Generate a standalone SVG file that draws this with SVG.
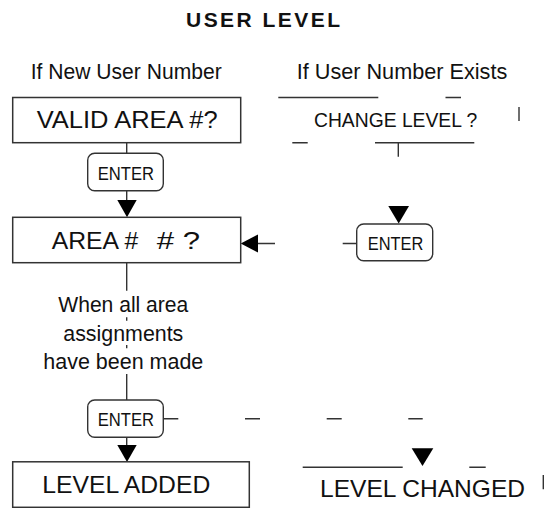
<svg xmlns="http://www.w3.org/2000/svg" width="553" height="508" viewBox="0 0 553 508">
<style>
text{font-family:"Liberation Sans",Arial,sans-serif;fill:#111}
.box{fill:#fff;stroke:#333;stroke-width:1.5}
.key{fill:#fff;stroke:#333;stroke-width:1.4}
.ln{stroke:#333;stroke-width:1.4;fill:none}
.arr{fill:#000;stroke:none}
.lbl{font-size:22px}
.bt{font-size:23.5px}
.key-t{font-size:17.5px}
</style>
<rect width="553" height="508" fill="#fff"/>
<g id="title"><text x="186" y="26.5" font-size="21" font-weight="bold" textLength="154" lengthAdjust="spacing">USER LEVEL</text></g>
<g id="label-new"><text class="lbl" x="30.7" y="79.3" textLength="191" lengthAdjust="spacingAndGlyphs">If New User Number</text></g>
<g id="label-exists"><text class="lbl" x="296.7" y="79.3" textLength="210.6" lengthAdjust="spacingAndGlyphs">If User Number Exists</text></g>
<g id="connectors">
<path class="ln" d="M126.7 142.7V153.3M126.7 190.7V201M126.7 262.7V290.7M126.7 317.3V320.7M126.7 345V348.3M126.7 374V400M126.7 437.3V446"/>
<polygon class="arr" points="117.3,200 136.7,200 127,217.3"/>
<polygon class="arr" points="117.3,445 136.7,445 127,462"/>
<path class="ln" d="M398.3 142.7V156.7M258 243.5H275M342.7 243.5H356.7"/>
<polygon class="arr" points="388.3,206 409,206 398.7,223.5"/>
<polygon class="arr" points="240.7,243.5 258,234.5 258,252.5"/>
<path class="ln" d="M163.3 418.8H178.3M245 418.8H260M326.7 418.8H341.7M408.3 418.8H422.7"/>
<polygon class="arr" points="411.7,448.3 433.3,448.3 422.5,466"/>
</g>
<g id="valid-area">
<rect class="box" x="12.7" y="97.5" width="228" height="45.2"/>
<text class="bt" x="36.7" y="128" textLength="181" lengthAdjust="spacingAndGlyphs">VALID AREA #?</text>
</g>
<g id="enter-1">
<rect class="key" x="87.7" y="153.3" width="75.6" height="37.4" rx="7"/>
<text class="key-t" x="97.7" y="179.5" textLength="56.3" lengthAdjust="spacingAndGlyphs">ENTER</text>
</g>
<g id="area">
<rect class="box" x="12.7" y="217.3" width="228" height="45.4"/>
<text class="bt" y="249"><tspan x="51.7" textLength="86.6" lengthAdjust="spacingAndGlyphs">AREA #</tspan><tspan x="156.7" textLength="43.3" lengthAdjust="spacingAndGlyphs"># ?</tspan></text>
</g>
<g id="change-level">
<path class="ln" d="M278.3 97.5H378.3M445.5 97.5H461M519 107V121M292.3 142.7H307.7M375 142.7H474.3"/>
<text x="314" y="127" font-size="19.5" textLength="163.3" lengthAdjust="spacingAndGlyphs">CHANGE LEVEL ?</text>
</g>
<g id="enter-2">
<rect class="key" x="356.7" y="224" width="76" height="36.7" rx="7"/>
<text class="key-t" x="367.7" y="250.3" textLength="55.6" lengthAdjust="spacingAndGlyphs">ENTER</text>
</g>
<g id="note">
<text class="lbl" x="123.3" y="311.7" text-anchor="middle" textLength="130" lengthAdjust="spacingAndGlyphs">When all area</text>
<text class="lbl" x="123.3" y="340.5" text-anchor="middle" textLength="120" lengthAdjust="spacingAndGlyphs">assignments</text>
<text class="lbl" x="123.3" y="369.3" text-anchor="middle" textLength="160" lengthAdjust="spacingAndGlyphs">have been made</text>
</g>
<g id="enter-3">
<rect class="key" x="87.7" y="400" width="75.6" height="37.3" rx="7"/>
<text class="key-t" x="97.7" y="426" textLength="56.3" lengthAdjust="spacingAndGlyphs">ENTER</text>
</g>
<g id="level-added">
<rect class="box" x="12.7" y="461.8" width="236.6" height="45.5"/>
<text class="bt" x="42.3" y="493.3" textLength="168" lengthAdjust="spacingAndGlyphs">LEVEL ADDED</text>
</g>
<g id="level-changed">
<path class="ln" d="M302.7 467.3H402.7M469.3 467.3H485.7M543.3 475V489.3"/>
<text x="320" y="497.3" font-size="24" textLength="205" lengthAdjust="spacingAndGlyphs">LEVEL CHANGED</text>
</g>
</svg>
